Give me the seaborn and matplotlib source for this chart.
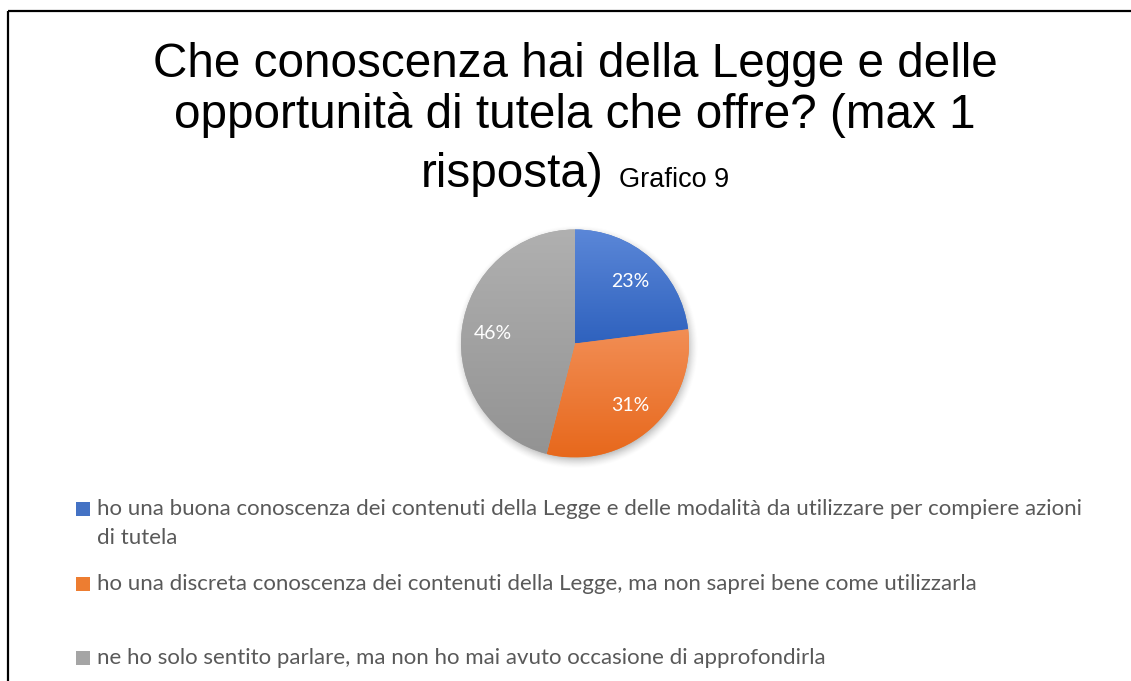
import numpy as np
import matplotlib
matplotlib.use("Agg")
import matplotlib.pyplot as plt
import seaborn as sns
from matplotlib.patches import Rectangle
from matplotlib.lines import Line2D

# Survey answers and shares (percent)
categories = [
    "ho una buona conoscenza dei contenuti della Legge e delle modalità da utilizzare per compiere azioni di tutela",
    "ho una discreta conoscenza dei contenuti della Legge, ma non saprei bene come utilizzarla",
    "ne ho solo sentito parlare, ma non ho mai avuto occasione di approfondirla",
]
shares = [23, 31, 46]

title_lines = [
    "Che conoscenza hai della Legge e delle",
    "opportunità di tutela che offre? (max 1",
    "risposta)",
]
subtitle = "Grafico 9"

# Slice colours: base, light (top) and dark (bottom) tones of each gradient
base_colors = ["#4472C4", "#ED7D31", "#A5A5A5"]
light_colors = ["#5B87D8", "#F28E55", "#B0B0B0"]
dark_colors = ["#2F62BE", "#E7681C", "#939393"]

sns.set_theme(style="white")
plt.rcParams["font.family"] = ["Liberation Sans", "DejaVu Sans"]

W, H = 1131, 681
fig = plt.figure(figsize=(W / 100, H / 100), dpi=100)
fig.patch.set_facecolor("white")
fig.patch.set_edgecolor("white")
fig.patch.set_linewidth(0)


def fx(px):
    return px / W


def fy(py):
    return 1 - py / H


# Chart frame: top and left edges (the rest lies outside the canvas)
for xs, ys in (([8, 1160], [11, 11]), ([8, 8], [11, 720])):
    fig.add_artist(Line2D([fx(v) for v in xs], [fy(v) for v in ys],
                          transform=fig.transFigure, color="black",
                          linewidth=1.6, solid_capstyle="butt"))

# Pie axes: centre (575, 343.5) px, radius 114 px, limits +/-1.25
cx, cy, r = 575, 343.5, 114
half = 1.25 * r
ax = fig.add_axes([fx(cx - half), fy(cy + half), 2 * half / W, 2 * half / H])

wedges, _, autotexts = ax.pie(
    shares, colors=base_colors, startangle=90, counterclock=False,
    autopct="%.0f%%", pctdistance=0.73,
    wedgeprops=dict(linewidth=0),
    textprops=dict(color="white", fontsize=14, family=["Lato", "DejaVu Sans"]),
)

# Soft drop shadow under the pie
n = 500
g = np.linspace(-1.25, 1.25, n)
X, Y = np.meshgrid(g, g[::-1])
d = np.hypot(X - 0.01, Y + 0.03)
a = np.clip((1.07 - d) / 0.11, 0, 1) ** 1.5 * 0.45
shadow = np.zeros((n, n, 4))
shadow[..., :3] = 0.35
shadow[..., 3] = a
ax.imshow(shadow, extent=(-1.25, 1.25, -1.25, 1.25), zorder=0.5,
          interpolation="bilinear")

# Vertical gradient fill for each slice
for w, lc, dc in zip(wedges, light_colors, dark_colors):
    w.set_zorder(1)
    ext = w.get_path().get_extents()
    c0 = np.array(matplotlib.colors.to_rgb(lc))
    c1 = np.array(matplotlib.colors.to_rgb(dc))
    t = np.linspace(0, 1, 256)[:, None, None]
    grad = c0 * (1 - t) + c1 * t
    im = ax.imshow(grad, extent=(ext.x0, ext.x1, ext.y0, ext.y1),
                   aspect="auto", zorder=1.5, interpolation="bilinear")
    im.set_clip_path(w)
for t in autotexts:
    t.set_zorder(3)

ax.set_xlim(-1.25, 1.25)
ax.set_ylim(-1.25, 1.25)
ax.set_axis_off()

# Title
title_size = 34.3
baselines = [77, 128, 187]
for line, yb in zip(title_lines[:2], baselines[:2]):
    fig.text(fx(575), fy(yb), line, ha="center", va="baseline",
             fontsize=title_size, color="black")

renderer = fig.canvas.get_renderer()
t1 = fig.text(0, fy(baselines[2]), title_lines[2], ha="left", va="baseline",
              fontsize=title_size, color="black")
t2 = fig.text(0, fy(baselines[2]), subtitle, ha="left", va="baseline",
              fontsize=19.5, color="black")
w1 = t1.get_window_extent(renderer).width
w2 = t2.get_window_extent(renderer).width
gap = 16
x0 = 575 - (w1 + gap + w2) / 2
t1.set_x(fx(x0))
t2.set_x(fx(x0 + w1 + gap))

# Legend
leg_family = ["Lato", "DejaVu Sans"]
probe = fig.text(0, 0, categories[1], fontsize=10, family=leg_family)
pw = probe.get_window_extent(renderer).width
probe.remove()
leg_size = 10 * 878 / pw


def wrap(text, max_px):
    words = text.split(" ")
    lines, cur = [], ""
    for wd in words:
        cand = wd if not cur else cur + " " + wd
        tt = fig.text(0, 0, cand, fontsize=leg_size, family=leg_family)
        wpx = tt.get_window_extent(renderer).width
        tt.remove()
        if wpx > max_px and cur:
            lines.append(cur)
            cur = wd
        else:
            cur = cand
    lines.append(cur)
    return lines


for i, (label, col) in enumerate(zip(categories, base_colors)):
    base_y = 515 + 74.5 * i
    fig.patches.append(Rectangle((fx(76), fy(base_y + 1)), 14 / W, 14 / H,
                                 transform=fig.transFigure, facecolor=col,
                                 edgecolor="none"))
    for j, ln in enumerate(wrap(label, 1000)):
        fig.text(fx(97), fy(base_y + 29 * j), ln, ha="left", va="baseline",
                 fontsize=leg_size, family=leg_family, color="#595959")

fig.savefig("out.png", dpi=100, facecolor="white", edgecolor="white")
